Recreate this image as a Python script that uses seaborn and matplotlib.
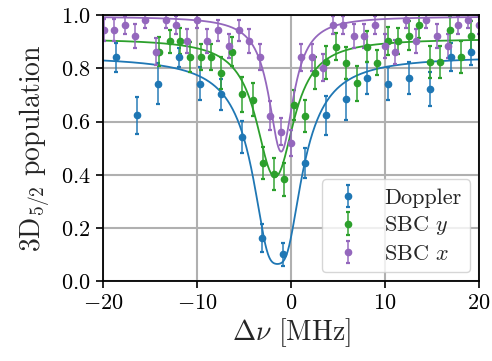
import numpy as np
import matplotlib
matplotlib.use("Agg")
import matplotlib.pyplot as plt
import seaborn as sns
import pandas as pd

# ---------------- data ----------------
dop_x = [-18.6, -16.35, -14.1, -11.9, -9.7, -7.45, -5.24, -3.07, -0.83, 1.45,
         3.7, 5.9, 8.1, 10.35, 12.55, 14.8, 17.0, 19.2]
dop_y = [0.841, 0.623, 0.742, 0.841, 0.742, 0.702, 0.542, 0.163, 0.101, 0.443,
         0.623, 0.683, 0.763, 0.742, 0.762, 0.722, 0.843, 0.862]
dop_e = [0.054, 0.070, 0.077, 0.036, 0.063, 0.059, 0.060, 0.054, 0.043, 0.056,
         0.073, 0.076, 0.061, 0.063, 0.060, 0.065, 0.052, 0.050]

sby_x = [-14.0, -12.9, -11.8, -10.7, -9.6, -8.5, -7.4, -6.3, -5.2, -4.05,
         -2.95, -1.85, -0.75, 0.35, 1.45, 2.6, 3.7, 4.8, 5.9, 7.0,
         8.1, 9.2, 10.3, 11.4, 12.5, 13.6, 14.75, 15.85, 16.95, 18.05, 19.2]
sby_y = [0.862, 0.902, 0.902, 0.842, 0.842, 0.842, 0.781, 0.862, 0.702, 0.682,
         0.443, 0.403, 0.383, 0.662, 0.622, 0.781, 0.822, 0.881, 0.821, 0.743,
         0.881, 0.821, 0.903, 0.902, 0.922, 0.962, 0.822, 0.822, 0.943, 0.842, 0.922]
sby_e = [0.055, 0.043, 0.050, 0.055, 0.050, 0.048, 0.060, 0.055, 0.065, 0.062,
         0.060, 0.060, 0.062, 0.056, 0.060, 0.060, 0.063, 0.050, 0.060, 0.066,
         0.058, 0.047, 0.052, 0.050, 0.055, 0.050, 0.060, 0.060, 0.050, 0.060, 0.055]

sbx_x = [-19.9, -18.8, -17.7, -16.6, -15.5, -14.4, -13.3, -12.2, -11.1, -10.0,
         -8.9, -7.8, -6.65, -5.55, -4.45, -3.35, -2.2, -1.1, 0.0, 1.1,
         2.25, 3.35, 4.45, 5.55, 6.65, 7.8, 8.9, 10.0, 11.1, 12.2,
         13.3, 14.4, 15.5, 16.65, 17.75, 18.85, 19.95]
sbx_y = [0.944, 0.944, 0.962, 0.922, 0.982, 0.862, 0.982, 0.962, 0.902, 0.982,
         0.902, 0.943, 0.882, 0.943, 0.902, 0.842, 0.622, 0.562, 0.519, 0.841,
         0.841, 0.802, 0.962, 0.962, 0.922, 0.922, 0.962, 0.885, 0.862, 0.982,
         0.902, 0.982, 0.922, 0.882, 0.962, 0.982, 0.962]
sbx_e = [0.040, 0.040, 0.035, 0.045, 0.030, 0.050, 0.030, 0.035, 0.045, 0.030,
         0.045, 0.040, 0.045, 0.040, 0.045, 0.050, 0.055, 0.050, 0.050, 0.050,
         0.050, 0.050, 0.035, 0.035, 0.045, 0.045, 0.035, 0.045, 0.045, 0.030,
         0.045, 0.030, 0.045, 0.045, 0.035, 0.030, 0.035]

# fit parameters: baseline, depth, centre, width, saturation
dop_fit = dict(B=0.845, A=0.78, x0=-1.45, g=1.185, R=5.0)
sby_fit = dict(B=0.912, A=0.52, x0=-1.7, g=1.5, R=2.0)
sbx_fit = dict(B=0.995, A=0.508, x0=-1.05, g=1.243, R=1.0)

labels = ["Doppler", r"SBC $y$", r"SBC $x$"]
colors = ["#1f77b4", "#2ca02c", "#9467bd"]


def model(x, B, A, x0, g, R):
    L = 1.0 / (1.0 + ((x - x0) / g) ** 2)
    return B - A * (1 - np.exp(-R * L)) / (1 - np.exp(-R))


# ---------------- style ----------------
sns.set_theme(style="white")
plt.rcParams.update({
    "font.family": "serif",
    "font.serif": ["cmr10"],
    "mathtext.fontset": "cm",
    "axes.formatter.use_mathtext": True,
    "axes.unicode_minus": True,
})

fig = plt.figure(figsize=(4.92, 3.61), dpi=100)
ax = fig.add_axes([0.2094, 0.2208, 0.7642, 0.7376])

xf = np.linspace(-20, 20, 801)
series = [(dop_x, dop_y, dop_e, dop_fit), (sby_x, sby_y, sby_e, sby_fit),
          (sbx_x, sbx_y, sbx_e, sbx_fit)]
for (x, y, e, p), lab, c in zip(series, labels, colors):
    df = pd.DataFrame({"x": xf, "y": model(xf, **p)})
    sns.lineplot(data=df, x="x", y="y", color=c, lw=1.3, ax=ax, legend=False)
    eb = ax.errorbar(x, y, yerr=e, fmt="o", color=c, ecolor=c, ms=4.5,
                     elinewidth=1.4, capsize=1.2, capthick=1.6, label=lab)
    for b in eb[2]:
        b.set_alpha(0.75)
    for cap in eb[1]:
        cap.set_color(c)

ax.set_xlim(-20, 20)
ax.set_ylim(0, 1)
ax.set_xticks([-20, -10, 0, 10, 20])
ax.set_yticks([0, 0.2, 0.4, 0.6, 0.8, 1.0])
ax.grid(True, color="#b0b0b0", lw=1.5)
ax.set_axisbelow(True)
for s in ax.spines.values():
    s.set_color("black")
    s.set_linewidth(1.3)
ax.tick_params(direction="out", length=5, width=1.2, labelsize=16, colors="black",
               bottom=True, left=True, pad=4)
ax.set_xlabel(r"$\Delta\nu$ [MHz]", fontsize=20, labelpad=2)
ax.set_ylabel(r"3D$_{5/2}$ population", fontsize=20, labelpad=6)

leg = ax.legend(loc="lower right", fontsize=16, frameon=True, fancybox=True,
                framealpha=0.8, handlelength=1.6, borderaxespad=0.4,
                labelspacing=0.3)
leg.get_frame().set_edgecolor("#cccccc")

fig.savefig("out.png", dpi=100)
